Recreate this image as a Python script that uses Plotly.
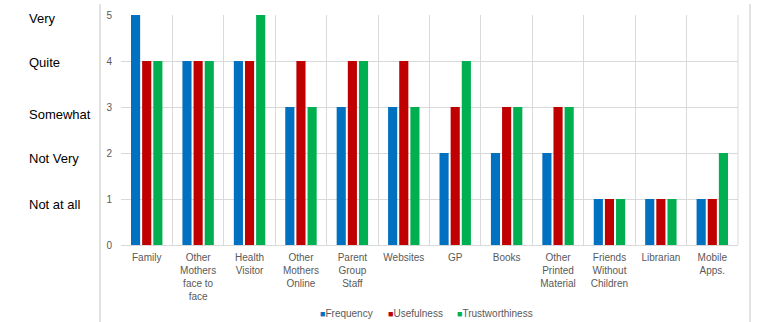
import plotly.graph_objects as go

categories = ["Family", "Other<br>Mothers<br>face to<br>face", "Health<br>Visitor", "Other<br>Mothers<br>Online",
              "Parent<br>Group<br>Staff", "Websites", "GP", "Books", "Other<br>Printed<br>Material",
              "Friends<br>Without<br>Children", "Librarian", "Mobile<br>Apps."]
frequency = [5, 4, 4, 3, 3, 3, 2, 2, 2, 1, 1, 1]
usefulness = [4, 4, 4, 4, 4, 4, 3, 3, 3, 1, 1, 1]
trustworthiness = [4, 4, 5, 3, 4, 3, 4, 3, 3, 1, 1, 2]
series_names = ["Frequency", "Usefulness", "Trustworthiness"]
colors = ["#0070C0", "#C00000", "#00B050"]
scale_labels = ["Very", "Quite", "Somewhat", "Not Very", "Not at all"]
scale_label_pos = [4.93, 3.96, 2.83, 1.89, 0.89]

fig = go.Figure()
for name, vals, c in zip(series_names, [frequency, usefulness, trustworthiness], colors):
    fig.add_trace(go.Bar(x=categories, y=vals, name=name, marker=dict(color=c, line=dict(width=0))))

PL, PR, PT, PB = 121, 738, 15, 245
W, H = PR - PL, PB - PT

fig.update_layout(
    width=759, height=322,
    margin=dict(l=PL, r=759 - PR, t=PT, b=322 - PB, autoexpand=False),
    paper_bgcolor="white", plot_bgcolor="white",
    barmode="group", bargap=0.35, bargroupgap=0.18,
    font=dict(family="Liberation Sans, Arial, sans-serif", size=10, color="#595959"),
    showlegend=False,
    xaxis=dict(tickson="boundaries", showgrid=True, gridcolor="#D9D9D9", gridwidth=1,
               showline=True, linecolor="#D9D9D9", linewidth=1, mirror=False, automargin=False,
               ticks="", ticklabelstandoff=3, tickfont=dict(size=10, color="#595959"), fixedrange=True),
    yaxis=dict(range=[0, 5], dtick=1, showgrid=True, gridcolor="#D9D9D9", gridwidth=1,
               zeroline=False, showline=False, ticks="", ticklabelstandoff=8, automargin=False,
               tickfont=dict(size=10, color="#595959"), fixedrange=True),
)

# right border of plot area
fig.add_shape(type="line", xref="paper", yref="paper", x0=1, x1=1, y0=0, y1=1,
              line=dict(color="#D9D9D9", width=1))

# outer vertical border lines
for px in (100, 750):
    fig.add_shape(type="line", xref="paper", yref="paper", x0=(px - PL) / W, x1=(px - PL) / W,
                  y0=-(322 - PB) / H, y1=(PB - 4) / H, line=dict(color="#D9D9D9", width=1.5))

# left scale labels
for lab, pos in zip(scale_labels, scale_label_pos):
    fig.add_annotation(text=lab, xref="paper", yref="y", x=(27 - PL) / W, y=pos,
                       xanchor="left", yanchor="middle", showarrow=False,
                       font=dict(size=13, color="#000000", family="Liberation Sans, Arial, sans-serif"))

# legend (bottom, small square markers)
legend_x = [318, 386, 455]
for name, c, lx in zip(series_names, colors, legend_x):
    fig.add_annotation(text=f"<span style='color:{c}; font-size:9px'>■</span>{name}",
                       xref="paper", yref="paper", x=(lx - PL) / W, y=-(313 - PB) / H,
                       xanchor="left", yanchor="middle", showarrow=False,
                       font=dict(size=10, color="#595959"))

fig.write_html("out.html")
